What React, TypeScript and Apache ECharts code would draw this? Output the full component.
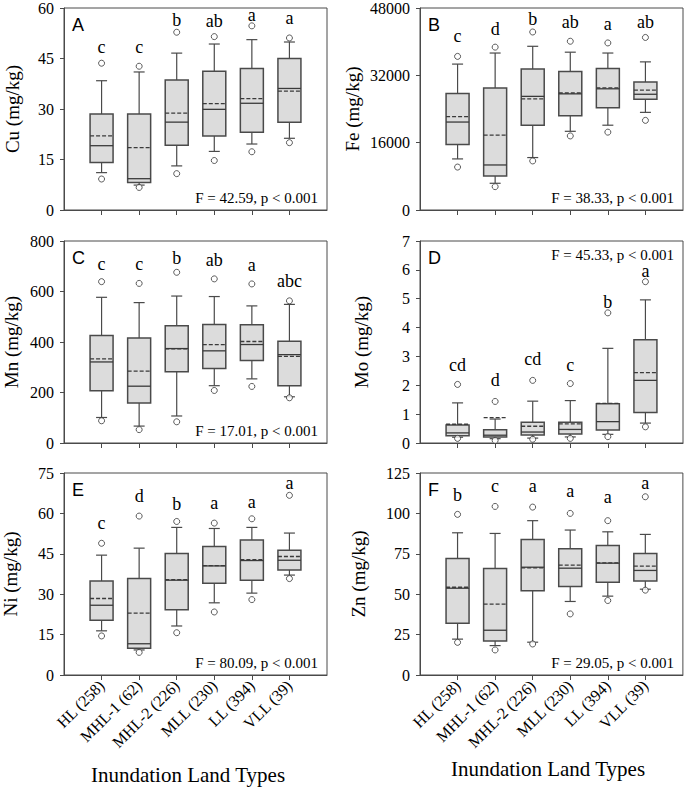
import React, { useEffect, useRef } from 'react';
import * as echarts from 'echarts';

const categories = ['HL (258)', 'MHL-1 (62)', 'MHL-2 (226)', 'MLL (230)', 'LL (394)', 'VLL (39)'];

// Cu
const cuLow = [11.1, 7.4, 13.1, 17.4, 19.6, 21.3];
const cuQ1 = [14.1, 8.2, 19.2, 22.0, 23.1, 26.1];
const cuMed = [19.1, 9.3, 26.1, 29.9, 31.7, 36.1];
const cuQ3 = [28.5, 28.5, 38.6, 41.2, 42.0, 45.0];
const cuHigh = [38.4, 41.0, 46.6, 49.3, 50.6, 49.9];
const cuMean = [22.0, 18.5, 28.8, 31.6, 33.1, 35.3];
const cuOutLow = [9.2, 6.7, 10.8, 14.7, 17.3, 20.0];
const cuOutHigh = [43.6, 42.7, 52.8, 51.5, 54.7, 51.1];
const cuLetters = ['c', 'c', 'b', 'ab', 'a', 'a'];
const cuLetterY = [48.3, 48.3, 56.3, 56.0, 58.0, 57.0];

// Fe
const feLow = [12140, 6350, 12460, 18700, 20150, 23200];
const feQ1 = [15550, 8100, 20150, 22400, 24300, 26300];
const feMed = [20900, 10700, 27000, 27600, 28800, 27500];
const feQ3 = [27690, 29000, 33500, 32900, 33600, 30400];
const feHigh = [34670, 37300, 38900, 37500, 37300, 35200];
const feMean = [22200, 17800, 26400, 27800, 29000, 28500];
const feOutLow = [10200, 5550, 11660, 17600, 18500, 21300];
const feOutHigh = [36500, 38700, 42300, 40100, 39700, 41000];
const feLetters = ['c', 'd', 'b', 'ab', 'a', 'ab'];
const feLetterY = [41300, 43000, 45400, 44600, 44200, 44600];

// Mn
const mnLow = [101, 67, 107, 227, 254, 183];
const mnQ1 = [207, 158, 282, 295, 327, 227];
const mnMed = [321, 225, 374, 365, 390, 350];
const mnQ3 = [426, 416, 464, 469, 468, 403];
const mnHigh = [577, 556, 582, 580, 543, 549];
const mnMean = [333, 285, 373, 390, 402, 343];
const mnOutLow = [88, 53, 84, 208, 224, 179];
const mnOutHigh = [639, 632, 676, 650, 630, 563];
const mnLetters = ['c', 'c', 'b', 'ab', 'a', 'abc'];
const mnLetterY = [707, 707, 734, 725, 705, 643];

// Mo
const moLow = [0.20, 0.15, 0.17, 0.21, 0.30, 0.69];
const moQ1 = [0.25, 0.21, 0.28, 0.31, 0.45, 1.06];
const moMed = [0.35, 0.27, 0.38, 0.47, 0.74, 2.17];
const moQ3 = [0.62, 0.46, 0.72, 0.72, 1.36, 3.58];
const moHigh = [1.39, 0.83, 1.45, 1.47, 3.28, 4.96];
const moMean = [0.65, 0.88, 0.58, 0.66, 1.37, 2.44];
const moOutLow = [0.16, 0.09, 0.13, 0.16, 0.22, 0.56];
const moOutHigh = [2.03, 1.44, 2.17, 2.06, 4.51, 5.59];
const moLetters = ['cd', 'd', 'cd', 'c', 'b', 'a'];
const moLetterY = [2.71, 2.17, 2.92, 2.71, 4.87, 5.95];

// Ni
const niLow = [16.4, 9.3, 18.2, 26.8, 30.4, 37.1];
const niQ1 = [20.3, 9.9, 24.2, 34.1, 35.2, 39.0];
const niMed = [25.9, 11.6, 35.2, 40.5, 42.5, 42.6];
const niQ3 = [34.9, 35.8, 45.1, 47.7, 50.1, 46.3];
const niHigh = [44.5, 47.1, 54.8, 54.4, 54.8, 52.7];
const niMean = [28.4, 23.0, 35.4, 40.6, 42.8, 44.0];
const niOutLow = [14.5, 8.4, 15.7, 23.4, 28.0, 35.8];
const niOutHigh = [48.9, 59.0, 57.0, 56.4, 58.0, 66.7];
const niLetters = ['c', 'd', 'b', 'a', 'a', 'a'];
const niLetterY = [56.4, 66.3, 63.4, 63.8, 64.4, 71.3];

// Zn
const znLow = [22.2, 18.2, 20.3, 45.5, 48.8, 53.1];
const znQ1 = [32.0, 21.1, 52.1, 54.8, 57.4, 58.1];
const znMed = [53.7, 27.7, 66.7, 66.1, 69.2, 64.7];
const znQ3 = [72.1, 65.9, 83.9, 78.1, 80.2, 75.2];
const znHigh = [88.0, 87.6, 95.5, 89.7, 88.6, 87.0];
const znMean = [54.3, 43.8, 66.3, 68.0, 69.4, 67.4];
const znOutLow = [20.2, 15.5, 19.2, 37.8, 46.1, 52.5];
const znOutHigh = [99.4, 104.3, 103.9, 100.0, 95.5, 110.3];
const znLetters = ['b', 'c', 'a', 'a', 'a', 'a'];
const znLetterY = [111.6, 117.1, 117.1, 113.6, 109.9, 118.8];

const panelLabels = ['A', 'B', 'C', 'D', 'E', 'F'];
const yNames = ['Cu (mg/kg)', 'Fe (mg/kg)', 'Mn (mg/kg)', 'Mo (mg/kg)', 'Ni (mg/kg)', 'Zn (mg/kg)'];
const yMax = [60, 48000, 800, 7, 75, 125];
const yInterval = [15, 16000, 200, 1, 15, 25];
const statTexts = [
  'F = 42.59, p < 0.001',
  'F = 38.33, p < 0.001',
  'F = 17.01, p < 0.001',
  'F = 45.33, p < 0.001',
  'F = 80.09, p < 0.001',
  'F = 29.05, p < 0.001',
];
const xTitle = 'Inundation Land Types';

const SERIF = 'Liberation Serif';
const SANS = 'Liberation Sans';
const LINE = '#4a4a4a';

const App: React.FC = () => {
  const ref = useRef<HTMLDivElement>(null);

  useEffect(() => {
    document.body.style.margin = '0';
    if (!ref.current) return;
    const chart = echarts.init(ref.current, undefined, { renderer: 'svg' });

    const stats = [
      [cuLow, cuQ1, cuMed, cuQ3, cuHigh, cuMean, cuOutLow, cuOutHigh, cuLetters, cuLetterY],
      [feLow, feQ1, feMed, feQ3, feHigh, feMean, feOutLow, feOutHigh, feLetters, feLetterY],
      [mnLow, mnQ1, mnMed, mnQ3, mnHigh, mnMean, mnOutLow, mnOutHigh, mnLetters, mnLetterY],
      [moLow, moQ1, moMed, moQ3, moHigh, moMean, moOutLow, moOutHigh, moLetters, moLetterY],
      [niLow, niQ1, niMed, niQ3, niHigh, niMean, niOutLow, niOutHigh, niLetters, niLetterY],
      [znLow, znQ1, znMed, znQ3, znHigh, znMean, znOutLow, znOutHigh, znLetters, znLetterY],
    ] as any[];

    const lefts = [64, 420];
    const tops = [8, 241, 473];
    const W = 263;
    const H = 202;
    const nameGaps = [42, 58, 43, 49, 44, 52];

    const grids: any[] = [];
    const xAxes: any[] = [];
    const yAxes: any[] = [];
    const series: any[] = [];
    const graphics: any[] = [];

    const xData = ['', ...categories, ''];

    for (let p = 0; p < 6; p++) {
      const col = p % 2;
      const row = Math.floor(p / 2);
      const left = lefts[col];
      const top = tops[row];
      grids.push({
        left, top, width: W, height: H,
        show: true, borderColor: LINE, borderWidth: 1, backgroundColor: 'transparent',
      });
      xAxes.push({
        type: 'category',
        gridIndex: p,
        data: xData,
        boundaryGap: false,
        axisLine: { show: true, lineStyle: { color: LINE, width: 1 } },
        axisTick: {
          show: true,
          length: 5,
          interval: (i: number) => i >= 1 && i <= 6,
          lineStyle: { color: LINE },
        },
        axisLabel: {
          show: row === 2,
          interval: 0,
          rotate: 45,
          margin: 8,
          fontFamily: SERIF,
          fontSize: 16,
          color: '#000',
        },
        splitLine: { show: false },
      });
      yAxes.push({
        type: 'value',
        gridIndex: p,
        min: 0,
        max: yMax[p],
        interval: yInterval[p],
        name: yNames[p],
        nameLocation: 'middle',
        nameGap: nameGaps[p],
        nameTextStyle: { fontFamily: SERIF, fontSize: 19, color: '#000' },
        axisLine: { show: true, lineStyle: { color: LINE, width: 1 } },
        axisTick: { show: true, length: 4, lineStyle: { color: LINE } },
        axisLabel: {
          fontFamily: SERIF, fontSize: 16, color: '#000', margin: 10,
          formatter: (v: number) => String(v),
        },
        splitLine: { show: false },
      });

      const [lo, q1, med, q3, hi, mean, oLo, oHi, letters, letterY] = stats[p];
      const boxData = categories.map((_, i) => [i + 1, lo[i], q1[i], med[i], q3[i], hi[i], mean[i]]);

      series.push({
        type: 'custom',
        xAxisIndex: p,
        yAxisIndex: p,
        data: boxData,
        encode: { x: 0, y: [1, 2, 3, 4, 5, 6] },
        z: 2,
        renderItem: (params: any, api: any) => {
          const x = api.value(0);
          const c = (v: number) => api.coord([x, v]);
          const pLo = c(api.value(1));
          const pQ1 = c(api.value(2));
          const pMed = c(api.value(3));
          const pQ3 = c(api.value(4));
          const pHi = c(api.value(5));
          const pMean = c(api.value(6));
          const cx = pLo[0];
          const hw = 11.5;
          const cw = 5.5;
          const ls = { stroke: LINE, lineWidth: 1.2, fill: null };
          return {
            type: 'group',
            children: [
              { type: 'line', shape: { x1: cx, y1: pQ3[1], x2: cx, y2: pHi[1] }, style: ls },
              { type: 'line', shape: { x1: cx, y1: pQ1[1], x2: cx, y2: pLo[1] }, style: ls },
              { type: 'line', shape: { x1: cx - cw, y1: pHi[1], x2: cx + cw, y2: pHi[1] }, style: ls },
              { type: 'line', shape: { x1: cx - cw, y1: pLo[1], x2: cx + cw, y2: pLo[1] }, style: ls },
              {
                type: 'rect',
                shape: { x: cx - hw, y: pQ3[1], width: hw * 2, height: pQ1[1] - pQ3[1] },
                style: { fill: '#dcdcdc', stroke: LINE, lineWidth: 1.5 },
              },
              { type: 'line', shape: { x1: cx - hw, y1: pMed[1], x2: cx + hw, y2: pMed[1] }, style: { stroke: '#3a3a3a', lineWidth: 1.3 } },
              {
                type: 'line',
                shape: { x1: cx - hw, y1: pMean[1], x2: cx + hw, y2: pMean[1] },
                style: { stroke: '#3a3a3a', lineWidth: 1.3, lineDash: [4, 2] },
              },
            ],
          };
        },
      });

      const outData: any[] = [];
      categories.forEach((_, i) => {
        outData.push([i + 1, oLo[i]]);
        outData.push([i + 1, oHi[i]]);
      });
      series.push({
        type: 'scatter',
        xAxisIndex: p,
        yAxisIndex: p,
        data: outData,
        symbol: 'circle',
        symbolSize: 6,
        z: 3,
        itemStyle: { color: '#ffffff', borderColor: '#333', borderWidth: 1 },
      });

      series.push({
        type: 'custom',
        xAxisIndex: p,
        yAxisIndex: p,
        data: categories.map((_, i) => [i + 1, letterY[i]]),
        encode: { x: 0, y: 1 },
        z: 4,
        renderItem: (params: any, api: any) => {
          const pt = api.coord([api.value(0), api.value(1)]);
          return {
            type: 'text',
            style: {
              text: letters[params.dataIndex],
              x: pt[0],
              y: pt[1],
              align: 'center',
              verticalAlign: 'middle',
              textAlign: 'center',
              textVerticalAlign: 'middle',
              font: `18px ${SERIF}`,
              fill: '#000',
            },
          };
        },
      });

      graphics.push({
        type: 'text',
        left: left + 8,
        top: top + 8,
        style: { text: panelLabels[p], font: `18px ${SANS}`, fill: '#000' },
      });
      const isTop = p === 3;
      graphics.push({
        type: 'text',
        right: 685 - (left + W - 9),
        top: isTop ? top + 6 : top + H - 20,
        style: { text: statTexts[p], font: `15px ${SERIF}`, fill: '#000' },
      });
    }

    graphics.push({
      type: 'text',
      x: 188,
      y: 775,
      style: {
        text: xTitle, font: `21px ${SERIF}`, fill: '#000',
        align: 'center', verticalAlign: 'middle', textAlign: 'center', textVerticalAlign: 'middle',
      },
    });
    graphics.push({
      type: 'text',
      x: 548,
      y: 769,
      style: {
        text: xTitle, font: `21px ${SERIF}`, fill: '#000',
        align: 'center', verticalAlign: 'middle', textAlign: 'center', textVerticalAlign: 'middle',
      },
    });

    chart.setOption({
      animation: false,
      backgroundColor: '#ffffff',
      grid: grids,
      xAxis: xAxes,
      yAxis: yAxes,
      series,
      graphic: graphics,
    });

    return () => chart.dispose();
  }, []);

  return <div ref={ref} style={{ width: 685, height: 789 }} />;
};

export default App;
